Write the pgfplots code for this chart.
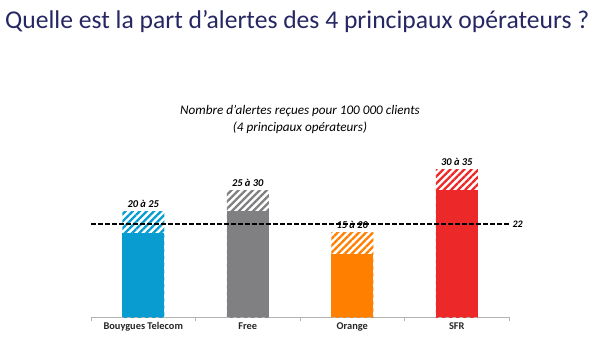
\documentclass[border=0pt]{standalone}
\usepackage{fontspec}
\setmainfont{Carlito}
\usepackage{pgfplots}
\pgfplotsset{compat=1.18}
\usetikzlibrary{patterns.meta}
\definecolor{cblue}{RGB}{8,156,208}
\definecolor{cgray}{RGB}{128,128,130}
\definecolor{corange}{RGB}{255,127,0}
\definecolor{cred}{RGB}{236,40,40}
\definecolor{ctitle}{RGB}{38,38,100}
\begin{document}
\begin{tikzpicture}[x=1bp,y=1bp]
\path (0,0) rectangle (600,351);
\node[anchor=west,text=ctitle,font=\fontsize{25.7}{30}\selectfont,inner sep=0] at (5,329) {Quelle est la part d’alertes des 4 principaux opérateurs ?};
\node[align=center,font=\fontsize{13.2}{17}\selectfont\itshape,inner sep=0] at (300,231.5) {Nombre d'alertes reçues pour 100 000 clients\\(4 principaux opérateurs)};
\begin{axis}[
  at={(91bp,34bp)}, anchor=south west,
  scale only axis, width=418bp, height=169bp,
  xmin=-0.5, xmax=3.5, ymin=0, ymax=40,
  axis y line=none,
  axis x line*=bottom,
  x axis line style={draw=gray!60, line width=0.6pt, -},
  xtick={0,1,2,3},
  xticklabels={Bouygues Telecom,Free,Orange,SFR},
  major tick length=0pt,
  minor xtick={-0.5,0.5,1.5,2.5,3.5},
  minor tick length=4bp,
  minor tick style={draw=gray!60},
  tick align=center,
  xticklabel style={font=\fontsize{10.4}{12}\selectfont\bfseries, text=black!85, yshift=-2bp},
  clip=false,
  ybar, bar width=42bp, bar shift=0pt,
  nodes near coords,
  point meta=explicit symbolic,
  every node near coord/.append style={font=\fontsize{10.5}{12}\selectfont\bfseries\itshape, text=black, yshift=0bp},
]
\addplot[draw=none, pattern={Lines[angle=45,distance=5bp,line width=2.3bp]}, pattern color=cblue] coordinates {(0,25) [20 à 25]};
\addplot[draw=none, pattern={Lines[angle=45,distance=5bp,line width=2.3bp]}, pattern color=cgray] coordinates {(1,30) [25 à 30]};
\addplot[draw=none, pattern={Lines[angle=45,distance=5bp,line width=2.3bp]}, pattern color=corange] coordinates {(2,20) [15 à 20]};
\addplot[draw=none, pattern={Lines[angle=45,distance=5bp,line width=2.3bp]}, pattern color=cred] coordinates {(3,35) [30 à 35]};
\addplot[draw=none, fill=cblue, nodes near coords={}] coordinates {(0,20) []};
\addplot[draw=none, fill=cgray, nodes near coords={}] coordinates {(1,25) []};
\addplot[draw=none, fill=corange, nodes near coords={}] coordinates {(2,15) []};
\addplot[draw=none, fill=cred, nodes near coords={}] coordinates {(3,30) []};
\addplot[sharp plot, black, line width=1.3pt, nodes near coords={}, dash pattern=on 4.5bp off 2.5bp] coordinates {(-0.5,22) (3.5,22)};
\node[anchor=west, font=\fontsize{10}{11}\selectfont\bfseries\itshape] at (axis cs:3.5,22) {22};
\end{axis}
\end{tikzpicture}
\end{document}
